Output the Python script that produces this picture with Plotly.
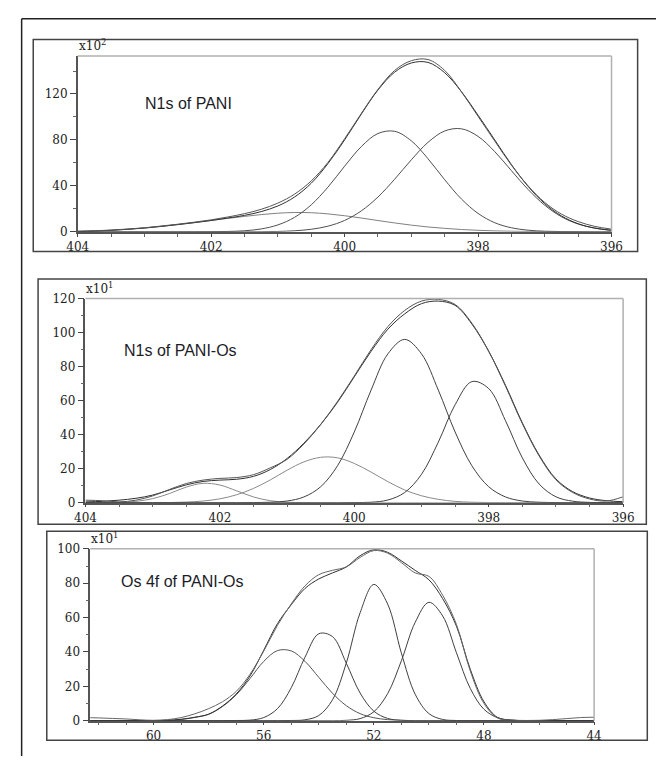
import plotly.graph_objects as go

W, H = 667, 763

# ---------------- data ----------------
e_n1s = [404.0, 403.75, 403.5, 403.25, 403.0, 402.75, 402.5, 402.25, 402.0, 401.75,
         401.5, 401.25, 401.0, 400.75, 400.5, 400.25, 400.0, 399.75, 399.5, 399.25,
         399.0, 398.75, 398.5, 398.25, 398.0, 397.75, 397.5, 397.25, 397.0, 396.75,
         396.5, 396.25, 396.0]

# Panel 1: N1s of PANI (x10^2)
p1_raw = [0.5, 0.9, 1.5, 2.4, 3.5, 5.0, 6.6, 8.4, 10.4, 12.9, 15.8, 19.6, 25.0, 32.8,
          44.3, 60.4, 81.0, 103.0, 124.0, 140.5, 149.0, 150.0, 140.5, 122.0, 100.5,
          79.0, 58.0, 40.0, 25.5, 15.4, 8.9, 4.7, 2.3]
p1_fit = [0.3, 0.7, 1.3, 2.2, 3.3, 4.7, 6.3, 8.0, 9.9, 12.0, 14.3, 17.6, 22.5, 30.3,
          42.3, 59.4, 80.0, 102.5, 123.5, 139.0, 147.0, 147.5, 138.5, 122.0, 101.5,
          80.0, 58.5, 39.5, 24.5, 13.8, 7.0, 3.2, 1.3]
p1_a = [0.3, 0.7, 1.3, 2.2, 3.3, 4.7, 6.3, 8.0, 9.8, 11.7, 13.4, 15.0, 16.2, 16.8,
        16.6, 15.6, 14.0, 12.0, 9.8, 7.7, 5.8, 4.2, 3.0, 2.0, 1.3, 0.8, 0.5, 0.3,
        0.2, 0.1, 0.1, 0.0, 0.0]
p1_b = [0, 0, 0, 0, 0, 0, 0, 0, 0.1, 0.3, 0.9, 2.5, 6.0, 12.6, 23.5, 38.9, 57.1,
        74.2, 85.6, 87.5, 79.2, 63.6, 45.3, 28.6, 16.0, 7.9, 3.5, 1.4, 0.5, 0.2,
        0.1, 0, 0]
p1_c = [0, 0, 0, 0, 0, 0, 0, 0, 0, 0, 0, 0.1, 0.3, 0.9, 2.2, 4.9, 9.9, 18.2, 30.3,
        45.8, 62.7, 77.9, 87.8, 89.7, 83.1, 69.8, 53.2, 36.8, 23.1, 13.1, 6.8, 3.2, 1.3]

# Panel 2: N1s of PANI-Os (x10^1)
p2_raw = [1.5, 1.2, 0.5, 1.5, 4.0, 7.8, 11.3, 13.3, 14.3, 14.8, 16.5, 20.5, 25.5,
          34.5, 46.0, 59.5, 74.5, 90.0, 103.5, 113.0, 118.5, 119.5, 116.5, 105.5,
          89.0, 68.5, 46.5, 27.5, 13.5, 6.0, 2.2, 1.0, 3.5]
p2_fit = [0.5, 0.8, 1.5, 2.6, 4.5, 7.5, 10.5, 12.5, 13.3, 13.8, 15.5, 19.5, 26.0,
          35.0, 46.0, 59.0, 74.0, 89.0, 102.0, 111.0, 117.0, 118.5, 116.0, 105.0,
          89.0, 69.0, 47.0, 28.0, 14.0, 6.5, 2.8, 1.2, 0.6]
p2_d = [0, 0, 0.2, 0.8, 2.4, 5.4, 9.2, 11.4, 10.4, 7.0, 3.4, 1.2, 0.3, 0.1, 0, 0, 0,
        0, 0, 0, 0, 0, 0, 0, 0, 0, 0, 0, 0, 0, 0, 0, 0]
p2_e = [0, 0, 0, 0, 0, 0.1, 0.4, 1.0, 2.3, 4.7, 8.4, 13.4, 19.1, 24.0, 26.7, 26.4,
        23.1, 18.0, 12.4, 7.5, 4.1, 2.0, 0.8, 0.3, 0.1, 0, 0, 0, 0, 0, 0, 0, 0]
p2_f = [0, 0, 0, 0, 0, 0, 0, 0, 0, 0, 0.1, 0.3, 1.0, 3.4, 9.4, 21.7, 41.6, 66.2,
        87.5, 96.0, 87.5, 66.2, 41.6, 21.7, 9.4, 3.4, 1.0, 0.3, 0.1, 0, 0, 0, 0]
p2_g = [0, 0, 0, 0, 0, 0, 0, 0, 0, 0, 0, 0, 0, 0, 0, 0, 0.1, 0.3, 1.6, 6.0, 16.7,
        35.6, 57.6, 71.2, 67.1, 48.2, 26.4, 11.0, 3.5, 0.9, 0.2, 0, 0]

# Panel 3: Os 4f of PANI-Os (x10^1)
e_os = [62.5, 62.0, 61.5, 61.0, 60.5, 60.0, 59.5, 59.0, 58.5, 58.0, 57.5, 57.0, 56.5,
        56.0, 55.5, 55.0, 54.5, 54.0, 53.5, 53.0, 52.5, 52.0, 51.5, 51.0, 50.5, 50.0,
        49.5, 49.0, 48.5, 48.0, 47.5, 47.0, 46.5, 46.0, 45.5, 45.0, 44.5, 44.0]
p3_raw = [1.8, 1.6, 1.3, 1.0, 0.5, 0.2, 0.6, 1.8, 4.0, 7.0, 11.0, 17.0, 27.0, 40.5,
          55.5, 68.0, 78.5, 85.0, 87.5, 89.5, 95.0, 99.0, 97.5, 92.0, 86.0, 84.0,
          73.0, 56.0, 29.0, 10.0, 1.5, 0.3, 0.1, 0.2, 0.6, 1.2, 1.8, 2.0]
p3_fit = [0, 0, 0, 0, 0, 0, 0.2, 0.8, 2.0, 3.8, 8.5, 15.5, 26.0, 41.0, 56.5, 67.5,
          77.0, 82.5, 86.0, 89.5, 96.0, 99.5, 98.0, 93.0, 87.5, 82.0, 71.0, 55.0,
          30.0, 11.0, 1.8, 0.3, 0, 0, 0, 0, 0, 0]
p3_h = [0, 0, 0, 0, 0, 0.1, 0.2, 0.7, 1.9, 3.7, 8.2, 15.0, 24.5, 34.5, 40.8, 40.6,
        34.5, 25.2, 15.9, 8.7, 4.1, 1.7, 0.6, 0.2, 0, 0, 0, 0, 0, 0, 0, 0, 0, 0, 0,
        0, 0, 0]
p3_i = [0, 0, 0, 0, 0, 0, 0, 0, 0, 0, 0, 0.1, 0.3, 1.8, 7.0, 19.2, 37.0, 50.6, 48.9,
        33.4, 16.1, 5.5, 1.3, 0.2, 0, 0, 0, 0, 0, 0, 0, 0, 0, 0, 0, 0, 0, 0]
p3_j = [0, 0, 0, 0, 0, 0, 0, 0, 0, 0, 0, 0, 0, 0, 0, 0.1, 0.5, 3.0, 12.2, 33.6, 62.8,
        79.3, 67.9, 39.3, 15.4, 4.1, 0.7, 0.1, 0, 0, 0, 0, 0, 0, 0, 0, 0, 0]
p3_k = [0, 0, 0, 0, 0, 0, 0, 0, 0, 0, 0, 0, 0, 0, 0, 0, 0, 0, 0, 0.2, 1.2, 5.2, 15.7,
        34.9, 57.2, 68.9, 60.9, 39.5, 18.8, 6.6, 1.7, 0.3, 0.1, 0, 0, 0, 0, 0]

titles = ["N1s of PANI", "N1s of PANI-Os", "Os 4f of PANI-Os"]
scales = ["x10<sup>2</sup>", "x10<sup>1</sup>", "x10<sup>1</sup>"]

# ---------------- layout geometry (pixels) ----------------
def px(x):
    return x / W

def py(y):
    return 1 - y / H

# plot areas: (left, top, right, bottom)
areas = [(69, 50, 621, 229), (77, 297, 633, 505), (82, 552, 603, 727)]
boxes = [(23, 33, 648, 249), (28, 277, 657, 527), (37, 534, 658, 747)]
title_pos = [(137, 98), (115, 350), (112, 585)]

fig = go.Figure()

def add_line(x, y, axis, color, width=1.0):
    fig.add_trace(go.Scatter(x=x, y=y, mode="lines", xaxis=axis[0], yaxis=axis[1],
                             line=dict(color=color, width=width, shape="spline",
                                       smoothing=1.0),
                             hoverinfo="skip", showlegend=False))

ax1 = ("x", "y"); ax2 = ("x2", "y2"); ax3 = ("x3", "y3")

add_line(e_n1s, p1_a, ax1, "#808080")
add_line(e_n1s, p1_b, ax1, "#505050")
add_line(e_n1s, p1_c, ax1, "#505050")
add_line(e_n1s, p1_fit, ax1, "#303030")
add_line(e_n1s, p1_raw, ax1, "#555555")

add_line(e_n1s, p2_d, ax2, "#8a8a8a")
add_line(e_n1s, p2_e, ax2, "#8a8a8a")
add_line(e_n1s, p2_f, ax2, "#404040")
add_line(e_n1s, p2_g, ax2, "#404040")
add_line(e_n1s, p2_fit, ax2, "#303030")
add_line(e_n1s, p2_raw, ax2, "#555555")

add_line(e_os, p3_h, ax3, "#555555")
add_line(e_os, p3_i, ax3, "#404040")
add_line(e_os, p3_j, ax3, "#404040")
add_line(e_os, p3_k, ax3, "#404040")
add_line(e_os, p3_fit, ax3, "#303030")
add_line(e_os, p3_raw, ax3, "#666666")

tickfont = dict(family="DejaVu Serif", size=12, color="#222222")

x_specs = [dict(range=[404, 396], tick0=396, dtick=2, minor_dtick=0.5),
           dict(range=[404, 396], tick0=396, dtick=2, minor_dtick=0.5),
           dict(range=[62.3, 44], tick0=44, dtick=4, minor_dtick=1)]
y_specs = [dict(range=[0, 153], dtick=40, minor_dtick=20),
           dict(range=[0, 120], dtick=20, minor_dtick=10),
           dict(range=[0, 100], dtick=20, minor_dtick=10)]

layout_axes = {}
for i in range(3):
    l, t, r, b = areas[i]
    sx = "" if i == 0 else str(i + 1)
    xs, ys = x_specs[i], y_specs[i]
    layout_axes["xaxis" + sx] = dict(
        domain=[px(l), px(r)], anchor="y" + sx, range=xs["range"],
        tickmode="linear", tick0=xs["tick0"], dtick=xs["dtick"],
        ticks="outside", ticklen=3, tickwidth=1, tickcolor="#444444",
        showline=True, linecolor="#555555", linewidth=1.5,
        showgrid=False, zeroline=False, tickfont=tickfont,
        minor=dict(tickmode="linear", tick0=xs["tick0"], dtick=xs["minor_dtick"],
                   ticks="outside", ticklen=3, tickcolor="#666666", showgrid=False),
        fixedrange=True)
    layout_axes["yaxis" + sx] = dict(
        domain=[py(b), py(t)], anchor="x" + sx, range=ys["range"],
        tickmode="linear", tick0=0, dtick=ys["dtick"],
        ticks="outside", ticklen=6, tickwidth=1, tickcolor="#444444",
        showline=True, linecolor="#555555", linewidth=1.5,
        showgrid=False, zeroline=False, tickfont=tickfont,
        minor=dict(tickmode="linear", tick0=0, dtick=ys["minor_dtick"],
                   ticks="outside", ticklen=3, tickcolor="#666666", showgrid=False),
        fixedrange=True)

shapes = []
# outer frame (left and top lines)
shapes.append(dict(type="line", xref="paper", yref="paper", x0=px(11), x1=px(667),
                   y0=py(12), y1=py(12), line=dict(color="#222222", width=1.5)))
shapes.append(dict(type="line", xref="paper", yref="paper", x0=px(11), x1=px(11),
                   y0=py(12), y1=py(763), line=dict(color="#222222", width=1.5)))
for i in range(3):
    bl, bt, br, bb = boxes[i]
    shapes.append(dict(type="rect", xref="paper", yref="paper",
                       x0=px(bl), x1=px(br), y0=py(bb), y1=py(bt),
                       line=dict(color="#444444", width=1.5)))
    l, t, r, b = areas[i]
    shapes.append(dict(type="line", xref="paper", yref="paper", x0=px(l), x1=px(r),
                       y0=py(t), y1=py(t), line=dict(color="#b0b0b0", width=1.5)))
    shapes.append(dict(type="line", xref="paper", yref="paper", x0=px(r), x1=px(r),
                       y0=py(t), y1=py(b), line=dict(color="#b0b0b0", width=1.5)))

annotations = []
for i in range(3):
    l, t, r, b = areas[i]
    annotations.append(dict(text=scales[i], xref="paper", yref="paper",
                            x=px(l - 1), y=py(t - 1), xanchor="left", yanchor="bottom",
                            showarrow=False, font=dict(family="DejaVu Serif", size=12,
                                                       color="#222222")))
    tx, ty = title_pos[i]
    annotations.append(dict(text=titles[i], xref="paper", yref="paper",
                            x=px(tx), y=py(ty), xanchor="left", yanchor="middle",
                            showarrow=False, font=dict(family="Liberation Sans", size=16,
                                                       color="#1c1c28")))

fig.update_layout(width=W, height=H, margin=dict(l=0, r=0, t=0, b=0),
                  paper_bgcolor="white", plot_bgcolor="white", showlegend=False,
                  shapes=shapes, annotations=annotations, **layout_axes)

fig.write_html("out.html", config={"displayModeBar": False},
               post_script="document.body.style.margin='0px';"
                           "document.body.style.overflow='hidden';")
